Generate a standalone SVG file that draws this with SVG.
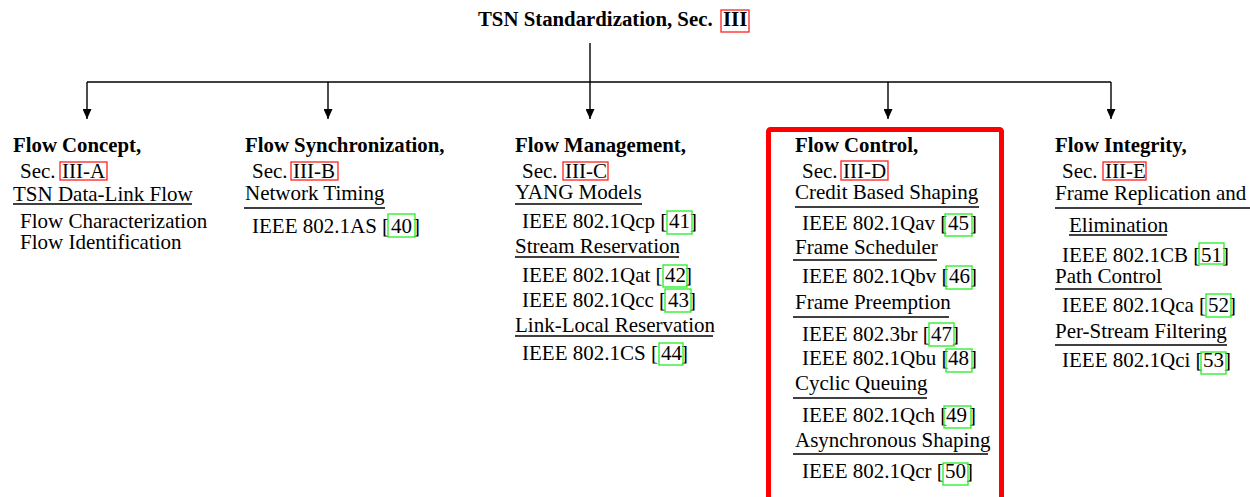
<svg xmlns="http://www.w3.org/2000/svg" width="1250" height="497" viewBox="0 0 1250 497">
<style>
text{font-family:"Liberation Serif","Times New Roman",serif;font-size:21px;fill:#000}
.b{font-weight:bold;font-size:20.8px}
.ul{stroke:#000;stroke-width:1.4}
.sec{fill:none;stroke:#ff2020;stroke-width:1.3}
.ref{fill:none;stroke:#22ee22;stroke-width:1.3}
.conn{fill:none;stroke:#000;stroke-width:1.4}
</style>
<defs>
<marker id="ah" markerUnits="userSpaceOnUse" markerWidth="10" markerHeight="9" refX="10" refY="4.5" orient="auto"><path d="M0,0 L10,4.5 L0,9 z" fill="#000"/></marker>
</defs>
<rect x="0" y="0" width="1250" height="497" fill="#fff"/>
<g id="connectors">
<line class="conn" x1="590" y1="43" x2="590" y2="82"/>
<line class="conn" x1="87" y1="82" x2="1111" y2="82"/>
<line class="conn" x1="87" y1="82" x2="87" y2="119" marker-end="url(#ah)"/>
<line class="conn" x1="328" y1="82" x2="328" y2="119" marker-end="url(#ah)"/>
<line class="conn" x1="590" y1="82" x2="590" y2="119" marker-end="url(#ah)"/>
<line class="conn" x1="888" y1="82" x2="888" y2="119" marker-end="url(#ah)"/>
<line class="conn" x1="1111" y1="82" x2="1111" y2="119" marker-end="url(#ah)"/>
</g>
<g id="root">
<text class="b" x="478" y="26">TSN Standardization, Sec. <tspan x="723">III</tspan></text>
<rect class="sec" x="721" y="10" width="28" height="22"/>
</g>
<g id="flow-concept">
<text class="b" x="13" y="152">Flow Concept,</text>
<text x="20" y="178">Sec. <tspan x="62">III-A</tspan></text>
<rect class="sec" x="60" y="162" width="47" height="18"/>
<text x="13" y="201">TSN Data-Link Flow</text>
<line class="ul" x1="13" y1="204" x2="192" y2="204"/>
<text x="20" y="228">Flow Characterization</text>
<text x="20" y="249">Flow Identification</text>
</g>
<g id="flow-synchronization">
<text class="b" x="245" y="152">Flow Synchronization,</text>
<text x="252" y="178">Sec. <tspan x="293">III-B</tspan></text>
<rect class="sec" x="291" y="162" width="47" height="18"/>
<text x="245" y="200">Network Timing</text>
<line class="ul" x1="244" y1="208" x2="385" y2="208"/>
<text x="252" y="233">IEEE 802.1AS [<tspan x="391">40</tspan><tspan x="413">]</tspan></text>
<rect class="ref" x="388" y="214" width="27" height="23"/>
</g>
<g id="flow-management">
<text class="b" x="515" y="152">Flow Management,</text>
<text x="522" y="178">Sec. <tspan x="565">III-C</tspan></text>
<rect class="sec" x="563" y="162" width="45" height="18"/>
<text x="515" y="199">YANG Models</text>
<line class="ul" x1="515" y1="204" x2="642" y2="204"/>
<text x="522" y="228">IEEE 802.1Qcp [<tspan x="669">41</tspan><tspan x="690">]</tspan></text>
<rect class="ref" x="667" y="211" width="25" height="23"/>
<text x="515" y="253">Stream Reservation</text>
<line class="ul" x1="515" y1="257" x2="679" y2="257"/>
<text x="522" y="282">IEEE 802.1Qat [<tspan x="665">42</tspan><tspan x="685">]</tspan></text>
<rect class="ref" x="663" y="265" width="24" height="22"/>
<text x="522" y="307">IEEE 802.1Qcc [<tspan x="668">43</tspan><tspan x="689">]</tspan></text>
<rect class="ref" x="665" y="289" width="26" height="23"/>
<text x="515" y="332">Link-Local Reservation</text>
<line class="ul" x1="515" y1="336" x2="713" y2="336"/>
<text x="522" y="360">IEEE 802.1CS [<tspan x="661">44</tspan><tspan x="681">]</tspan></text>
<rect class="ref" x="659" y="343" width="24" height="22"/>
</g>
<g id="flow-control">
<rect x="768.5" y="129.5" width="233" height="380" rx="2" fill="none" stroke="#ff0000" stroke-width="5"/>
<text class="b" x="795" y="152">Flow Control,</text>
<text x="802" y="178">Sec. <tspan x="843">III-D</tspan></text>
<rect class="sec" x="841" y="161" width="47" height="19"/>
<text x="795" y="199">Credit Based Shaping</text>
<line class="ul" x1="795" y1="207" x2="979" y2="207"/>
<text x="802" y="230">IEEE 802.1Qav [<tspan x="948">45</tspan><tspan x="970">]</tspan></text>
<rect class="ref" x="945" y="214" width="27" height="22"/>
<text x="795" y="254">Frame Scheduler</text>
<line class="ul" x1="793" y1="260" x2="937" y2="260"/>
<text x="802" y="283">IEEE 802.1Qbv [<tspan x="949">46</tspan><tspan x="970">]</tspan></text>
<rect class="ref" x="946" y="266" width="26" height="23"/>
<text x="795" y="309">Frame Preemption</text>
<line class="ul" x1="793" y1="317" x2="949" y2="317"/>
<text x="802" y="341">IEEE 802.3br [<tspan x="931">47</tspan><tspan x="952">]</tspan></text>
<rect class="ref" x="929" y="323" width="25" height="23"/>
<text x="802" y="365">IEEE 802.1Qbu [<tspan x="948">48</tspan><tspan x="970">]</tspan></text>
<rect class="ref" x="946" y="349" width="26" height="23"/>
<text x="795" y="390">Cyclic Queuing</text>
<line class="ul" x1="793" y1="398" x2="927" y2="398"/>
<text x="802" y="422">IEEE 802.1Qch [<tspan x="946">49</tspan><tspan x="969">]</tspan></text>
<rect class="ref" x="944" y="406" width="27" height="22"/>
<text x="795" y="447">Asynchronous Shaping</text>
<line class="ul" x1="793" y1="454" x2="988" y2="454"/>
<text x="802" y="478">IEEE 802.1Qcr [<tspan x="945">50</tspan><tspan x="966">]</tspan></text>
<rect class="ref" x="943" y="463" width="25" height="22"/>
</g>
<g id="flow-integrity">
<text class="b" x="1055" y="152">Flow Integrity,</text>
<text x="1062" y="178">Sec. <tspan x="1105">III-E</tspan></text>
<rect class="sec" x="1103" y="162" width="43" height="18"/>
<text x="1055" y="200">Frame Replication and</text>
<line class="ul" x1="1055" y1="208" x2="1250" y2="208"/>
<text x="1069" y="232">Elimination</text>
<line class="ul" x1="1069" y1="235" x2="1167" y2="235"/>
<text x="1062" y="262">IEEE 802.1CB [<tspan x="1201">51</tspan><tspan x="1222">]</tspan></text>
<rect class="ref" x="1199" y="243" width="25" height="21"/>
<text x="1055" y="283">Path Control</text>
<line class="ul" x1="1055" y1="289" x2="1162" y2="289"/>
<text x="1062" y="312">IEEE 802.1Qca [<tspan x="1208">52</tspan><tspan x="1229">]</tspan></text>
<rect class="ref" x="1206" y="294" width="25" height="23"/>
<text x="1055" y="338">Per-Stream Filtering</text>
<line class="ul" x1="1055" y1="345" x2="1227" y2="345"/>
<text x="1062" y="367">IEEE 802.1Qci [<tspan x="1203">53</tspan><tspan x="1224">]</tspan></text>
<rect class="ref" x="1201" y="352" width="25" height="22"/>
</g>
</svg>
